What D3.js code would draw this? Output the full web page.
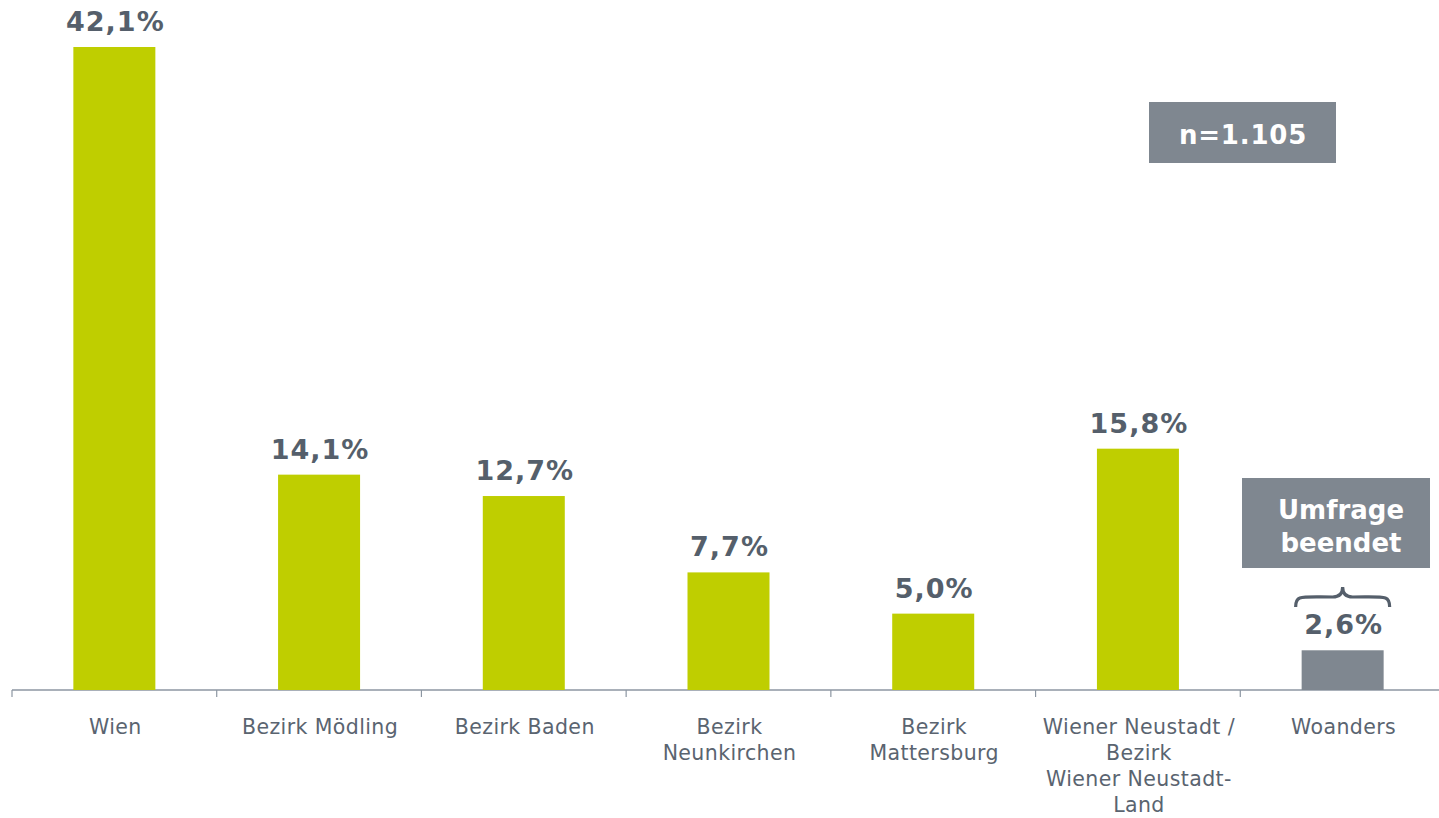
<!DOCTYPE html>
<html><head><meta charset="utf-8">
<script src="https://cdn.jsdelivr.net/npm/d3@7"></script>
<style>body{margin:0;background:#fff}svg{display:block}</style>
</head><body>
<svg id="c" width="1439" height="818"></svg>
<script>
const categories = ["Wien","Bezirk Mödling","Bezirk Baden","Bezirk Neunkirchen","Bezirk Mattersburg","Wiener Neustadt / Bezirk Wiener Neustadt-Land","Woanders"];
const categoryLines = [["Wien"],["Bezirk Mödling"],["Bezirk Baden"],["Bezirk","Neunkirchen"],["Bezirk","Mattersburg"],["Wiener Neustadt /","Bezirk","Wiener Neustadt-","Land"],["Woanders"]];
const values = [42.1,14.1,12.7,7.7,5.0,15.8,2.6];
const valueLabels = ["42,1%","14,1%","12,7%","7,7%","5,0%","15,8%","2,6%"];
const sampleLabel = "n=1.105";
const endedLines = ["Umfrage","beendet"];

const svg = d3.select("#c");
const baseY = 690, left = 12;
const x = d3.scaleBand().domain(categories).range([left, 1445]).paddingInner(0).paddingOuter(0);
const y = d3.scaleLinear().domain([0, 42.1]).range([baseY, 47]);
const barW = 82;
const green = "#bfce00", grey = "#7f8790", textC = "#555f6b";
const font = "'DejaVu Sans', Verdana, sans-serif";

svg.append("line").attr("x1", left).attr("x2", 1439).attr("y1", baseY).attr("y2", baseY)
  .attr("stroke", "#8c96a2").attr("stroke-width", 1.5);
categories.forEach((c,i)=>{
  svg.append("line").attr("x1", x(c)).attr("x2", x(c)).attr("y1", baseY).attr("y2", baseY+7)
    .attr("stroke", "#8c96a2").attr("stroke-width", 1.2);
});

svg.selectAll("rect.bar").data(categories).enter().append("rect")
  .attr("x", c => x(c) + x.bandwidth()/2 - barW/2)
  .attr("width", barW)
  .attr("y", (c,i) => y(values[i]))
  .attr("height", (c,i) => baseY - y(values[i]))
  .attr("fill", (c,i) => i === 6 ? grey : green);

svg.selectAll("text.val").data(categories).enter().append("text")
  .attr("x", c => x(c) + x.bandwidth()/2 + 1)
  .attr("y", (c,i) => y(values[i]) - 16)
  .attr("text-anchor", "middle")
  .attr("font-family", font).attr("letter-spacing", 1)
  .attr("font-weight", "bold").attr("font-size", 27).attr("fill", textC)
  .text((c,i) => valueLabels[i]);

categories.forEach((c,i)=>{
  const t = svg.append("text")
    .attr("y", 734)
    .attr("text-anchor", "middle")
    .attr("font-family", font).attr("letter-spacing", 0.4)
    .attr("font-size", 20.5).attr("fill", "#5a6470");
  categoryLines[i].forEach((l,j)=>{
    t.append("tspan").attr("x", x(c) + x.bandwidth()/2 + 1).attr("dy", j===0?0:26).text(l);
  });
});

// n box
svg.append("rect").attr("x",1149).attr("y",102).attr("width",187).attr("height",61).attr("fill",grey);
svg.append("text").attr("x",1243).attr("y",144).attr("text-anchor","middle")
  .attr("font-family",font).attr("font-weight","bold").attr("letter-spacing",0.8)
  .attr("font-size",26).attr("fill","#fff").text(sampleLabel);

// Umfrage beendet box
svg.append("rect").attr("x",1242).attr("y",478).attr("width",188).attr("height",90).attr("fill",grey);
const tb = svg.append("text").attr("text-anchor","middle")
  .attr("font-family",font).attr("font-weight","bold")
  .attr("font-size",26).attr("fill","#fff");
endedLines.forEach((l,j)=>tb.append("tspan").attr("x",1341).attr("y",519+j*33).text(l));

// brace
const cx = x("Woanders") + x.bandwidth()/2;
const bx0 = cx - 47, bx1 = cx + 47, by = 597;
svg.append("path")
  .attr("d", `M${bx0},${by+10} C${bx0},${by-2} ${bx0+4},${by} ${cx-10},${by} C${cx-3},${by} ${cx},${by-4} ${cx},${by-10} C${cx},${by-4} ${cx+3},${by} ${cx+10},${by} C${bx1-4},${by} ${bx1},${by-2} ${bx1},${by+10}`)
  .attr("fill","none").attr("stroke",textC).attr("stroke-width",3.2);
</script>
</body></html>
